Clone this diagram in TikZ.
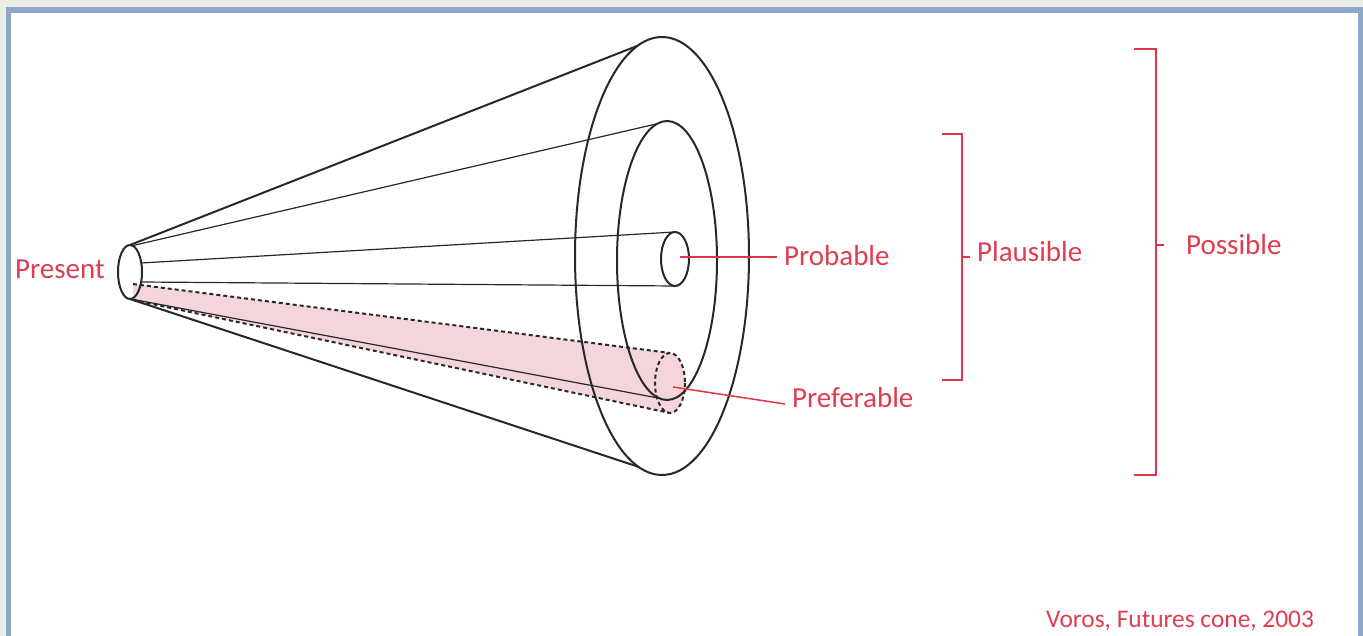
\documentclass[tikz,border=0pt]{standalone}
\usepackage{fontspec}
\setmainfont{Carlito}
\definecolor{bggray}{RGB}{236,238,232}
\definecolor{frameblue}{RGB}{143,168,200}
\definecolor{labelred}{RGB}{222,62,80}
\definecolor{linered}{RGB}{226,52,70}
\definecolor{pinkfill}{RGB}{244,214,218}
\definecolor{conegray}{RGB}{40,40,40}
\begin{document}
\begin{tikzpicture}[x=1pt,y=-1pt,
  coneline/.style={draw=conegray,line width=2pt},
  thinline/.style={draw=conegray,line width=1.2pt},
  dashline/.style={draw=conegray,line width=2pt,dash pattern=on 4pt off 3pt},
  redline/.style={draw=linered,line width=1.5pt},
  lbl/.style={text=labelred,font=\fontsize{29}{34}\selectfont,inner sep=0pt,anchor=base west}]
\useasboundingbox (0,0) rectangle (1363,636);
% background and frame
\fill[bggray] (0,0) rectangle (1363,636);
\fill[frameblue] (6,7) rectangle (1363,636);
\fill[white] (11,13) rectangle (1358,636);
% geometry coordinates
\coordinate (apexC) at (130,272);
\coordinate (outerC) at (662,256);
\coordinate (innerC) at (667,260.5);
\coordinate (probC) at (675,259);
\coordinate (prefC) at (670,383);
% preferable cylinder fill
\fill[pinkfill] (133,284) -- (670,353) arc[start angle=-90,end angle=90,x radius=15,y radius=30] -- (133,300) -- cycle;
% cone lines
\draw[coneline] (130,245) -- (637,46);
\draw[coneline] (130,299) -- (639,467);
\draw[thinline] (131,246) -- (656,124);
\draw[thinline] (141,263) -- (675,232);
\draw[thinline] (141,282) -- (675,286);
\draw[thinline] (131,299) -- (658,398);
% preferable cylinder outline
\draw[dashline] (133,284) -- (670,353);
\draw[dashline] (133,300) -- (670,413);
\draw[dashline] (prefC) ellipse[x radius=15,y radius=30];
% ellipses
\draw[coneline] (outerC) ellipse[x radius=87,y radius=219];
\draw[coneline] (innerC) ellipse[x radius=50,y radius=139.5];
\draw[coneline] (probC) ellipse[x radius=14,y radius=27];
\draw[coneline] (apexC) ellipse[x radius=12,y radius=27];
% labels
\node[lbl] (present) at (15,279) {Present};
\node[lbl] (probable) at (784,266) {Probable};
\node[lbl] (plausible) at (977,262) {Plausible};
\node[lbl] (possible) at (1186,255) {Possible};
\node[lbl] (preferable) at (792,407) {Preferable};
\node[lbl,font=\fontsize{25.4}{30}\selectfont] (credit) at (1046,627) {Voros, Futures cone, 2003};
% pointers
\coordinate (probA) at (680,257);
\coordinate (probB) at (777,257);
\coordinate (prefA) at (673,387);
\coordinate (prefB) at (785,404);
\draw[redline] (probA) -- (probB);
\draw[redline] (prefA) -- (prefB);
% brackets
\coordinate (plT) at (942,134);
\coordinate (plB) at (942,380);
\draw[redline] (plT) -- (962,134) -- (962,380) -- (plB);
\draw[redline] (962,257) -- (970,257);
\coordinate (poT) at (1134,49);
\coordinate (poB) at (1134,475);
\draw[redline] (poT) -- (1156,49) -- (1156,475) -- (poB);
\draw[redline] (1156,245) -- (1164,245);
\end{tikzpicture}
\end{document}
